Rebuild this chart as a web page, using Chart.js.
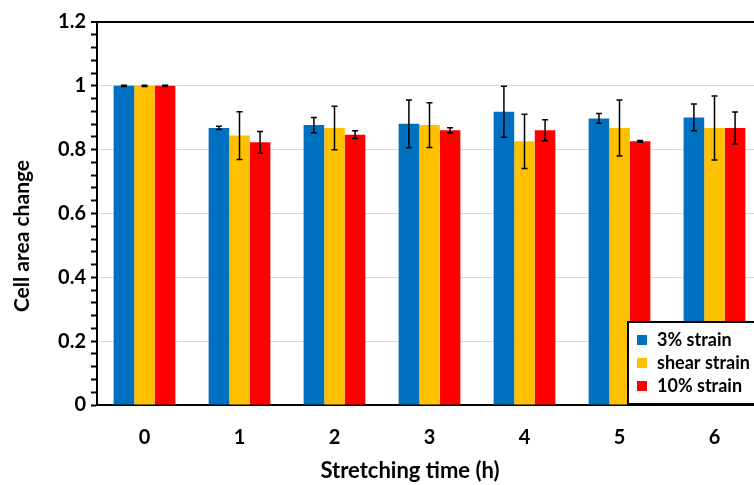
<!DOCTYPE html>
<html>
<head>
<meta charset="utf-8">
<script src="https://cdn.jsdelivr.net/npm/chart.js@4"></script>
<style>
  html, body { margin: 0; padding: 0; background: #fff; overflow: hidden; }
  #wrap { position: relative; width: 770px; height: 485px; }
</style>
</head>
<body>
<div id="wrap"><canvas id="c" width="770" height="485"></canvas></div>
<script>
// stretching time categories (h)
const HOURS = ['0', '1', '2', '3', '4', '5', '6'];

// mean cell area change + error
const STRAIN3 = [1.0, 0.868, 0.877, 0.881, 0.919, 0.898, 0.901];
const STRAIN3_ERR = [0.002, 0.005, 0.024, 0.075, 0.080, 0.015, 0.042];
const SHEAR = [1.0, 0.844, 0.868, 0.877, 0.826, 0.868, 0.868];
const SHEAR_ERR = [0.002, 0.075, 0.068, 0.070, 0.085, 0.088, 0.100];
const STRAIN10 = [1.0, 0.823, 0.847, 0.861, 0.861, 0.826, 0.868];
const STRAIN10_ERR = [0.002, 0.034, 0.012, 0.008, 0.033, 0.003, 0.050];

const ERRORS = [STRAIN3_ERR, SHEAR_ERR, STRAIN10_ERR];
const FONT = 'Lato, "Open Sans", sans-serif';

// error bars on top of every bar
const errorBars = {
  id: 'errorBars',
  afterDatasetsDraw(chart) {
    const { ctx, scales } = chart;
    ctx.save();
    ctx.strokeStyle = '#000';
    ctx.lineWidth = 1.5;
    chart.data.datasets.forEach((ds, i) => {
      chart.getDatasetMeta(i).data.forEach((bar, j) => {
        const v = ds.data[j], e = ERRORS[i][j];
        const y1 = scales.y.getPixelForValue(v + e);
        const y2 = scales.y.getPixelForValue(v - e);
        ctx.beginPath();
        ctx.moveTo(bar.x, y1); ctx.lineTo(bar.x, y2);
        ctx.moveTo(bar.x - 3, y1); ctx.lineTo(bar.x + 3, y1);
        ctx.moveTo(bar.x - 3, y2); ctx.lineTo(bar.x + 3, y2);
        ctx.stroke();
      });
    });
    ctx.restore();
  },
};

// boxed legend in the lower right + axis titles
const boxLegend = {
  id: 'boxLegend',
  afterDraw(chart) {
    const { ctx, chartArea } = chart;
    const left = chartArea.right - 134, top = chartArea.bottom - 83;
    ctx.save();
    ctx.fillStyle = '#fff';
    ctx.fillRect(left, top, 150, 82);
    ctx.strokeStyle = '#000';
    ctx.lineWidth = 2;
    ctx.strokeRect(left, top, 150, 82);
    ctx.font = 'bold 18px ' + FONT;
    ctx.textBaseline = 'middle';
    chart.data.datasets.forEach((ds, i) => {
      const y = top + 18 + i * 23;
      ctx.fillStyle = ds.backgroundColor;
      ctx.fillRect(left + 9, y - 5, 10, 10);
      ctx.fillStyle = '#000';
      ctx.fillText(ds.label, left + 29, y);
    });

    ctx.font = 'bold 22px ' + FONT;
    ctx.textAlign = 'center';
    ctx.fillText('Stretching time (h)', 410, 471);
    ctx.translate(22, 236);
    ctx.rotate(-Math.PI / 2);
    ctx.font = 'bold 21px ' + FONT;
    ctx.fillText('Cell area change', 0, 0);
    ctx.restore();
  },
};

new Chart(document.getElementById('c'), {
  type: 'bar',
  data: {
    labels: HOURS,
    datasets: [
      { label: '3% strain', data: STRAIN3, backgroundColor: '#0070C0' },
      { label: 'shear strain', data: SHEAR, backgroundColor: '#FFC000' },
      { label: '10% strain', data: STRAIN10, backgroundColor: '#FF0000' },
    ],
  },
  options: {
    responsive: false,
    animation: false,
    layout: { padding: { top: 22, right: 8, left: 0, bottom: 0 } },
    datasets: { bar: { categoryPercentage: 0.65, barPercentage: 1.0 } },
    plugins: { legend: { display: false }, tooltip: { enabled: false } },
    scales: {
      x: {
        grid: { display: false },
        border: { display: true, color: '#000', width: 2 },
        ticks: { color: '#000', font: { family: FONT, size: 20, weight: 'bold' }, padding: 13 },
        afterFit(scale) { scale.height = 80; },
      },
      y: {
        min: 0, max: 1.2,
        border: { display: true, color: '#000', width: 2 },
        grid: {
          color: (c) => {
            const k = Math.round(c.tick.value * 100);
            if (k === 120) return '#000';
            return k % 20 === 0 ? '#d9d9d9' : 'rgba(0,0,0,0)';
          },
          lineWidth: (c) => (Math.round(c.tick.value * 100) === 120 ? 2 : 1),
          tickColor: '#000',
          tickWidth: 2,
          tickLength: 6,
        },
        ticks: {
          stepSize: 0.04,
          autoSkip: false,
          color: '#000',
          padding: 5,
          font: { family: FONT, size: 20, weight: 'bold' },
          callback: (v) => {
            const k = Math.round(v * 100);
            return k % 20 === 0 ? String(k / 100) : '';
          },
        },
        afterFit(scale) { scale.width = 97; },
      },
    },
  },
  plugins: [errorBars, boxLegend],
});
</script>
</body>
</html>
